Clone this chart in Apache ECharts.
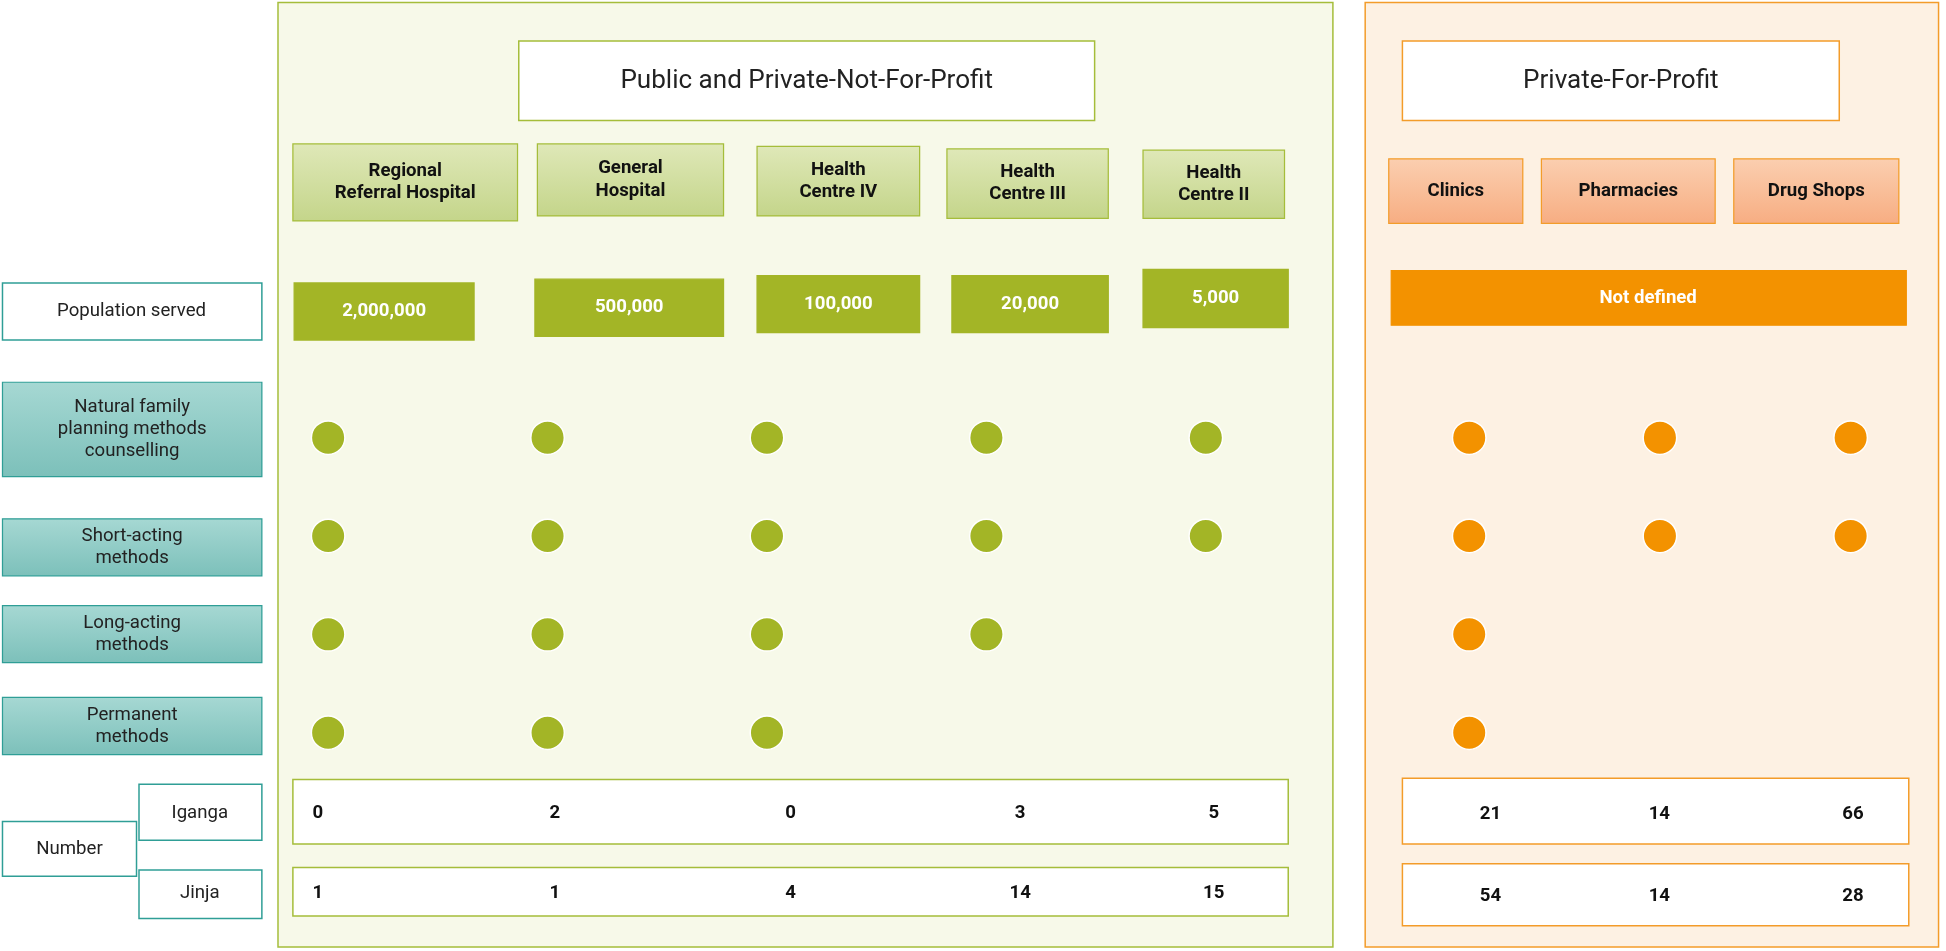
<!DOCTYPE html>
<html><head><meta charset="utf-8">
<script src="https://cdn.jsdelivr.net/npm/echarts@6/dist/echarts.min.js"></script>
<style>html,body{margin:0;padding:0;background:#fff}#c{width:1946px;height:951px}</style>
</head><body><div id="c"></div>
<script>
// ---- data ----
const publicTypes = ['Regional\nReferral Hospital','General\nHospital','Health\nCentre IV','Health\nCentre III','Health\nCentre II'];
const privateTypes = ['Clinics','Pharmacies','Drug Shops'];
const populationServed = ['2,000,000','500,000','100,000','20,000','5,000'];
const methods = ['Natural family\nplanning methods\ncounselling','Short-acting\nmethods','Long-acting\nmethods','Permanent\nmethods'];
// 1 = service offered
const publicServices = [[1,1,1,1,1],[1,1,1,1,1],[1,1,1,1,0],[1,1,1,0,0]];
const privateServices = [[1,1,1],[1,1,1],[1,0,0],[1,0,0]];
const igangaPublic = [0,2,0,3,5];
const jinjaPublic = [1,1,4,14,15];
const igangaPrivate = [21,14,66];
const jinjaPrivate = [54,14,28];

// ---- layout ----
const S = 1946/1568;
const F = 'Roboto';
const G = '#a3b526', O = '#f39200', T = '#2f9e96';
const pubHead = [[236,116,181,62],[433,116,150,58],[610,118,131,56],[763,120,130,56],[921,121,114,55]];
const pubPop = [[237,228,145,46],[431,225,152,46],[610,222,131,46],[767,222,126,46],[921,217,117,47]];
const privHead = [[1119,128,108,52],[1242,128,140,52],[1397,128,133,52]];
const pubNumX = [256,447,637,822,978];
const privNumX = [1201,1337,1493];
const methodBoxes = [[2,308,209,76],[2,418,209,46],[2,488,209,46],[2,562,209,46]];

const g = [];
function rect(x,y,w,h,fill,stroke,lw){g.push({type:'rect',shape:{x:x*S,y:y*S,width:w*S,height:h*S},style:{fill,stroke,lineWidth:(lw||1.5)*S},z:1});}
function text(x,y,t,size,color,weight,align){const s=size*S;g.push({type:'text',x:x*S,y:y*S,style:{text:t,font:(weight||'normal')+' '+s+'px '+F,fill:color,align:align||'center',verticalAlign:'middle',lineHeight:s*1.2},z:5});}
function grad(a,b){return {type:'linear',x:0,y:0,x2:0,y2:1,colorStops:[{offset:0,color:a},{offset:1,color:b}]};}

rect(224,2,850,761,'#f7f9e9','#a5bd3a',1.2);
rect(1100,2,462,761,'#fdf1e3','#f39c2a',1.2);
rect(418,33,464,64,'#fff','#a5bd3a',1.2); text(650,66,'Public and Private-Not-For-Profit',21,'#222');
rect(1130,33,352,64,'#fff','#f39c2a',1.2); text(1306,66,'Private-For-Profit',21,'#222');
publicTypes.forEach((t,i)=>{const b=pubHead[i];rect(b[0],b[1],b[2],b[3],grad('#dfe8b8','#c4d58a'),'#a5bd3a',1);text(b[0]+b[2]/2,b[1]+b[3]/2,t,15,'#111','bold');});
privateTypes.forEach((t,i)=>{const b=privHead[i];rect(b[0],b[1],b[2],b[3],grad('#fbcfb0','#f7ad82'),'#f39c2a',1);text(b[0]+b[2]/2,b[1]+b[3]/2,t,15,'#111','bold');});
populationServed.forEach((t,i)=>{const b=pubPop[i];rect(b[0],b[1],b[2],b[3],G,G,1);text(b[0]+b[2]/2,b[1]+b[3]/2,t,15,'#fff','bold');});
rect(1121,218,415,44,O,O,1); text(1328,240,'Not defined',15,'#fff','bold');
rect(2,228,209,46,'#fff',T,1.2); text(106,251,'Population served',15,'#222');
methods.forEach((t,i)=>{const b=methodBoxes[i];rect(b[0],b[1],b[2],b[3],grad('#a6d8d3','#7cc0ba'),T,1);text(b[0]+b[2]/2,b[1]+b[3]/2,t,15,'#222');});
rect(2,662,108,44,'#fff',T,1.2); text(56,684,'Number',15,'#222');
rect(112,632,99,45,'#fff',T,1.2); text(161,655,'Iganga',15,'#222');
rect(112,701,99,39,'#fff',T,1.2); text(161,720,'Jinja',15,'#222');
rect(236,628,802,52,'#fff','#a5bd3a',1.2); rect(236,699,802,39,'#fff','#a5bd3a',1.2);
rect(1130,627,408,53,'#fff','#f39c2a',1.2); rect(1130,696,408,50,'#fff','#f39c2a',1.2);
igangaPublic.forEach((v,i)=>text(pubNumX[i],655,String(v),15,'#111','bold'));
jinjaPublic.forEach((v,i)=>text(pubNumX[i],720,String(v),15,'#111','bold'));
igangaPrivate.forEach((v,i)=>text(privNumX[i],656,String(v),15,'#111','bold'));
jinjaPrivate.forEach((v,i)=>text(privNumX[i],722,String(v),15,'#111','bold'));

function dots(arr){const d=[];arr.forEach((row,r)=>row.forEach((v,c)=>{if(v)d.push([c,r]);}));return d;}
const hide={show:false};
const chart = echarts.init(document.getElementById('c'));
chart.setOption({
  animation:false,
  graphic:g,
  grid:[{left:176*S,width:884*S,top:313*S,height:317*S},{left:1107*S,width:465*S,top:313*S,height:317*S}],
  xAxis:[{type:'category',gridIndex:0,data:publicTypes,axisLine:hide,axisTick:hide,axisLabel:hide},
         {type:'category',gridIndex:1,data:privateTypes,axisLine:hide,axisTick:hide,axisLabel:hide}],
  yAxis:[{type:'category',gridIndex:0,data:methods,inverse:true,axisLine:hide,axisTick:hide,axisLabel:hide},
         {type:'category',gridIndex:1,data:methods,inverse:true,axisLine:hide,axisTick:hide,axisLabel:hide}],
  series:[
    {type:'scatter',xAxisIndex:0,yAxisIndex:0,data:dots(publicServices),symbolSize:27*S,itemStyle:{color:G,opacity:1,borderColor:'#fff',borderWidth:1.5},z:10},
    {type:'scatter',xAxisIndex:1,yAxisIndex:1,data:dots(privateServices),symbolSize:27*S,itemStyle:{color:O,opacity:1,borderColor:'#fff',borderWidth:1.5},z:10}
  ]
});
</script></body></html>
